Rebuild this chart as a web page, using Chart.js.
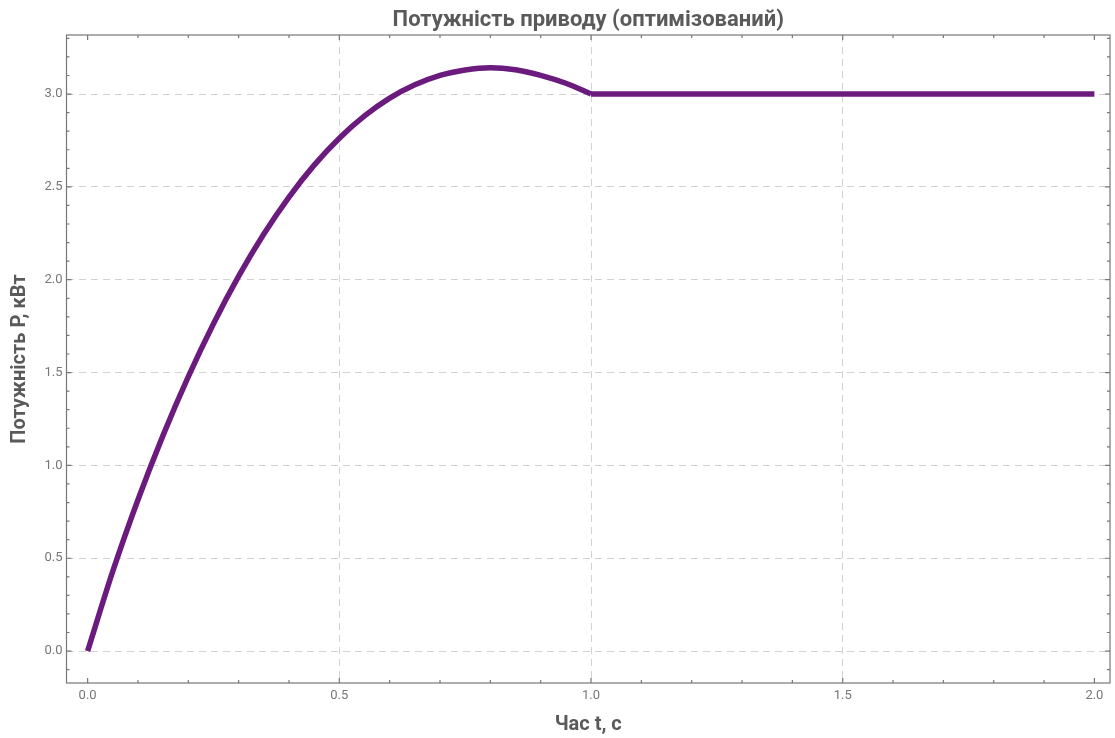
<!DOCTYPE html>
<html>
<head>
<meta charset="utf-8">
<script src="https://cdn.jsdelivr.net/npm/chart.js@4.4.1/dist/chart.umd.min.js"></script>
<style>
  html, body { margin: 0; padding: 0; background: #fff; }
  #wrap { width: 1115px; height: 738px; }
</style>
</head>
<body>
<div id="wrap"><canvas id="chrt"></canvas></div>
<script>
// values: acceleration part, then the flat part
let riseTime = [0, 0.05, 0.1, 0.15, 0.2, 0.25, 0.3, 0.35, 0.4, 0.45, 0.5, 0.55, 0.6, 0.65, 0.7, 0.75, 0.8, 0.85, 0.9, 0.95, 1.0];
let risePower = [0, 0.43, 0.815, 1.163, 1.478, 1.763, 2.019, 2.246, 2.445, 2.617, 2.762, 2.882, 2.978, 3.050, 3.101, 3.130, 3.142, 3.131, 3.101, 3.058, 3.0];
let holdTime = [1.0, 1.5, 2.0];
let holdPower = [3.0, 3.0, 3.0];
let xTicks = [0, 0.5, 1.0, 1.5, 2.0];
let yTicks = [0, 0.5, 1.0, 1.5, 2.0, 2.5, 3.0];

let lineColor = '#6b1a7d';
let frameColor = '#777777';
let textColor = '#5a5a5a';

function toPoints(xs, ys) {
    let pts = [];
    for (let i = 0; i < xs.length; i++) {
        pts.push({x: xs[i], y: ys[i]});
    }
    return pts;
}

// Mathematica-like frame with inward ticks on all four sides
const frameTicks = {
    id: 'frameTicks',
    afterDraw(chart) {
        let ctx = chart.ctx;
        let a = chart.chartArea;
        let xs = chart.scales.x, ys = chart.scales.y;
        ctx.save();
        ctx.strokeStyle = frameColor;
        ctx.lineWidth = 1.2;
        ctx.strokeRect(a.left, a.top, a.right - a.left, a.bottom - a.top);
        ctx.beginPath();
        for (let k = 0; k <= 20; k++) {
            let v = k / 10;
            let len = (k % 5 === 0) ? 5 : 3;
            let px = xs.getPixelForValue(v);
            ctx.moveTo(px, a.bottom); ctx.lineTo(px, a.bottom - len);
            ctx.moveTo(px, a.top); ctx.lineTo(px, a.top + len);
        }
        for (let k = -1; k <= 33; k++) {
            let v = k / 10;
            let len = (k % 5 === 0) ? 5 : 3;
            let py = ys.getPixelForValue(v);
            if (py < a.top || py > a.bottom) continue;
            ctx.moveTo(a.left, py); ctx.lineTo(a.left + len, py);
            ctx.moveTo(a.right, py); ctx.lineTo(a.right - len, py);
        }
        ctx.stroke();
        ctx.restore();
    }
};

let lineStyle = {
    borderColor: lineColor,
    borderWidth: 5.5,
    pointRadius: 0,
    fill: false,
    borderJoinStyle: 'round',
    cubicInterpolationMode: 'monotone'
};

let chrt = document.getElementById("chrt").getContext("2d");
let myChart = new Chart(chrt, {
    type: 'line',
    data: {
        datasets: [
            Object.assign({ data: toPoints(riseTime, risePower) }, lineStyle),
            Object.assign({ data: toPoints(holdTime, holdPower) }, lineStyle)
        ]
    },
    options: {
        responsive: true,
        maintainAspectRatio: false,
        animation: false,
        layout: { padding: { left: 0, right: 5, top: 0, bottom: 0 } },
        plugins: {
            legend: { display: false },
            tooltip: { enabled: false },
            title: {
                display: true,
                fullSize: false,
                text: 'Потужність приводу (оптимізований)',
                color: textColor,
                font: { family: 'Roboto', size: 22, weight: 'bold' },
                padding: { top: 7.3, bottom: 1.3 }
            }
        },
        scales: {
            x: {
                type: 'linear',
                min: -0.042,
                max: 2.031,
                afterBuildTicks: function(scale) {
                    scale.ticks = xTicks.map(v => ({value: v}));
                },
                afterFit: function(scale) { scale.height = 55; },
                ticks: {
                    color: '#777',
                    font: { family: 'Roboto', size: 13 },
                    padding: 5,
                    maxRotation: 0,
                    callback: v => v.toFixed(1)
                },
                grid: {
                    drawTicks: false,
                    color: ctx => (ctx.tick && ctx.tick.value > 0 && ctx.tick.value < 2) ? '#d2d2d2' : 'rgba(0,0,0,0)',
                    lineWidth: 1
                },
                border: { display: false, dash: [7, 5] },
                title: {
                    display: true,
                    text: 'Час t, с',
                    color: textColor,
                    font: { family: 'Roboto', size: 20, weight: 'bold' },
                    padding: { top: 0, bottom: 1 }
                }
            },
            y: {
                type: 'linear',
                min: -0.172,
                max: 3.318,
                afterBuildTicks: function(scale) {
                    scale.ticks = yTicks.map(v => ({value: v}));
                },
                afterFit: function(scale) { scale.width = 66.5; },
                ticks: {
                    color: '#777',
                    font: { family: 'Roboto', size: 13 },
                    padding: 4,
                    callback: v => v.toFixed(1)
                },
                grid: {
                    drawTicks: false,
                    color: '#d2d2d2',
                    lineWidth: 1
                },
                border: { display: false, dash: [7, 5] },
                title: {
                    display: true,
                    text: 'Потужність P, кВт',
                    color: textColor,
                    font: { family: 'Roboto', size: 20, weight: 'bold' },
                    padding: { top: 8.3, bottom: 0 }
                }
            }
        }
    },
    plugins: [frameTicks]
});
</script>
</body>
</html>
